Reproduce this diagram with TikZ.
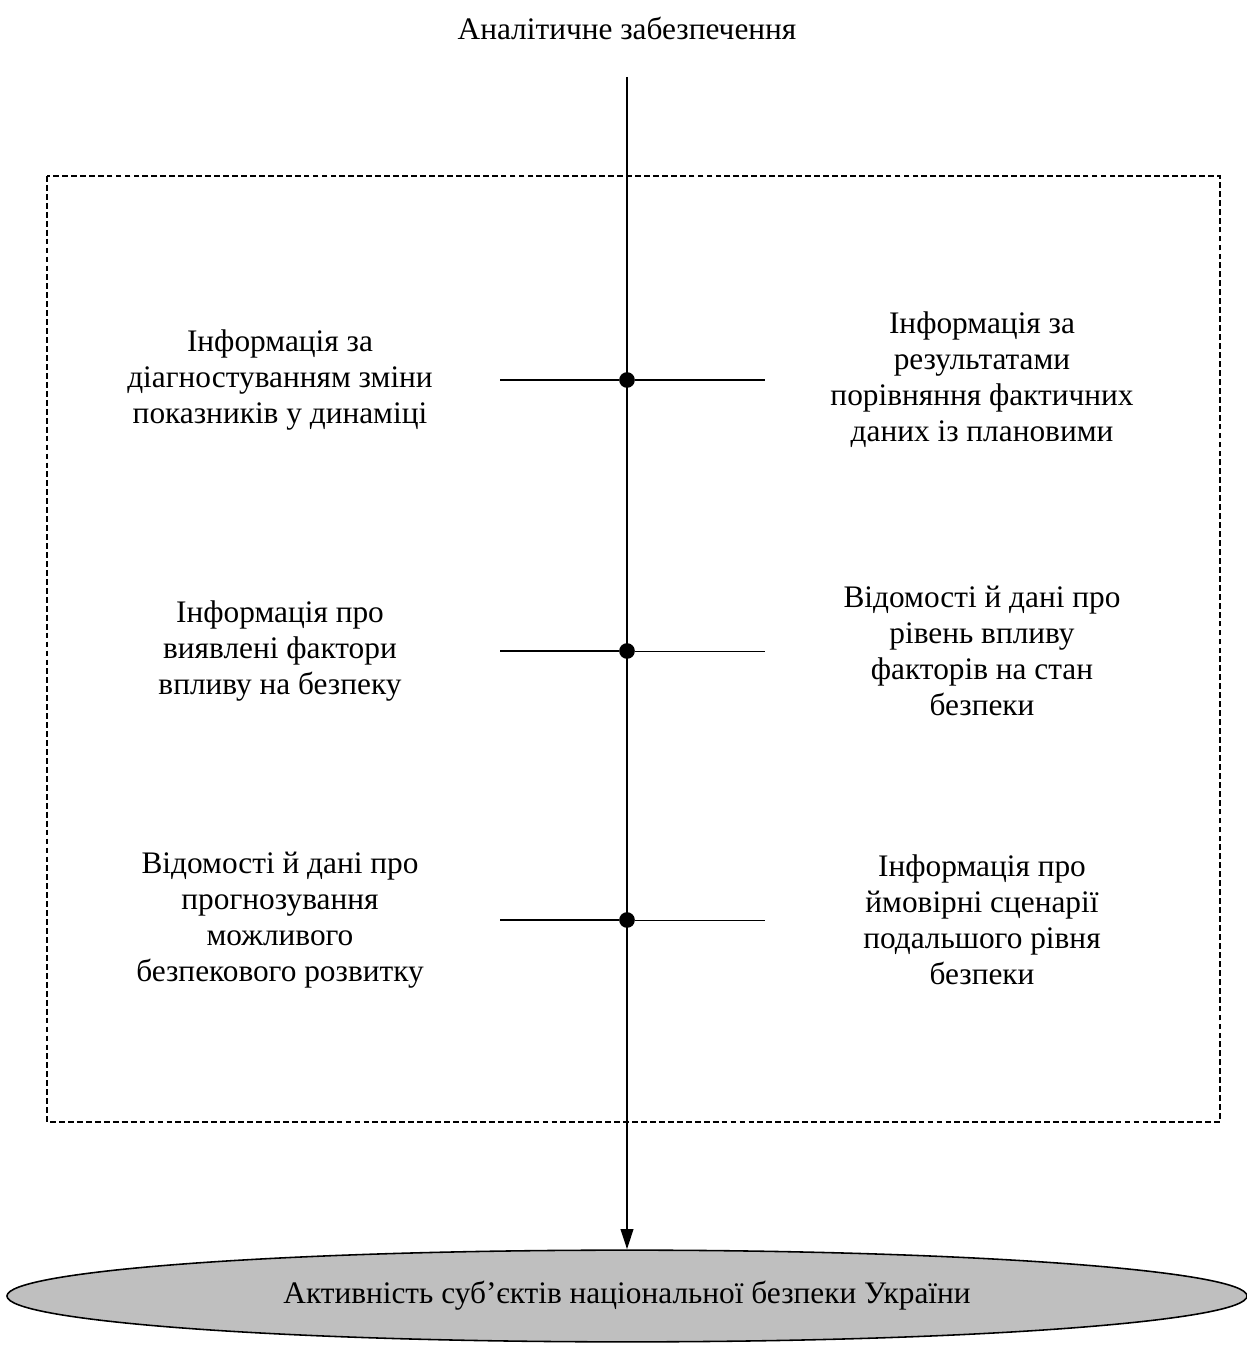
\documentclass[tikz,border=0pt]{standalone}
\usepackage{fontspec}
\setmainfont{Liberation Serif}
\usetikzlibrary{arrows.meta,shapes.geometric}

\begin{document}
\begin{tikzpicture}[
  x=0.0157cm, y=-0.0157cm,
  label/.style={font=\fontsize{14}{16.1}\selectfont, align=center},
  info/.style={font=\fontsize{14}{16.1}\selectfont, align=center, inner sep=0pt},
  dot/.style={circle, fill=black, inner sep=0pt, minimum size=7pt},
  oval/.style={ellipse, draw, fill=black!25, line width=0.7pt, minimum width=19.47cm, minimum height=1.44cm, font=\fontsize{14}{16.1}\selectfont},
  frame/.style={draw, line width=0.6pt, dash pattern=on 2.6pt off 1.4pt},
  spine/.style={line width=1.2pt},
  inlink/.style={line width=1pt},
  outlink/.style={line width=0.45pt}
]
\useasboundingbox (0,0) rectangle (1246,1348);

\node[label] (title) at (627,28) {Аналітичне забезпечення};
\coordinate (top) at (627,77);
\node[oval] (act) at (627,1296) {Активність суб’єктів національної безпеки України};

% dashed frame
\draw[frame] (47,176) rectangle (1220,1122);

% main line
\draw[spine, -{Triangle[length=9pt,width=5.5pt]}] (top) -- (act.north);

% rows
\node[dot] (d1) at (627,380) {};
\node[dot] (d2) at (627,651) {};
\node[dot] (d3) at (627,920) {};
\coordinate (l1) at (500,380); \coordinate (r1) at (765,380);
\coordinate (l2) at (500,651); \coordinate (r2) at (765,651);
\coordinate (l3) at (500,920); \coordinate (r3) at (765,920);
\draw[inlink] (l1) -- (d1);
\draw[outlink] (d1) -- (r1);
\draw[inlink] (l2) -- (d2);
\draw[outlink] (d2) -- (r2);
\draw[inlink] (l3) -- (d3);
\draw[outlink] (d3) -- (r3);

\node[info] (diag) at (280,380) {Інформація за\\діагностуванням зміни\\показників у динаміці};
\node[info] (plan) at (982,380) {Інформація за\\результатами\\порівняння фактичних\\даних із плановими};
\node[info] (fact) at (280,651) {Інформація про\\виявлені фактори\\впливу на безпеку};
\node[info] (level) at (982,651) {Відомості й дані про\\рівень впливу\\факторів на стан\\безпеки};
\node[info] (prog) at (280,920) {Відомості й дані про\\прогнозування\\можливого\\безпекового розвитку};
\node[info] (scen) at (982,920) {Інформація про\\ймовірні сценарії\\подальшого рівня\\безпеки};
\end{tikzpicture}
\end{document}
